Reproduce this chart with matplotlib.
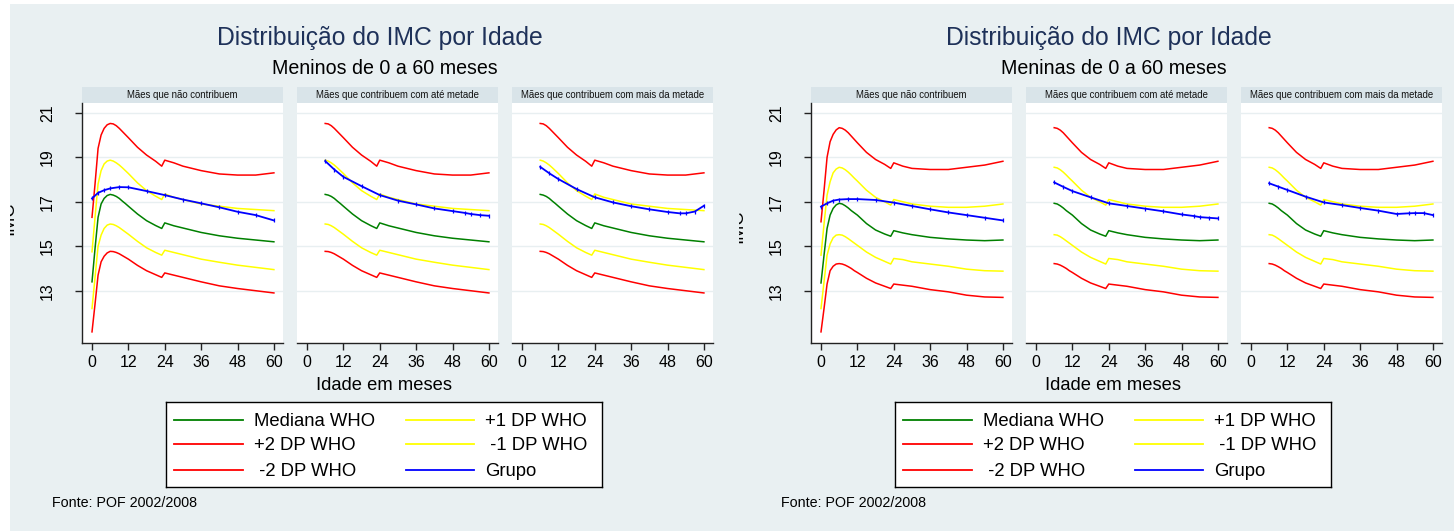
import matplotlib
matplotlib.use("Agg")
import matplotlib.pyplot as plt
from matplotlib.lines import Line2D

plt.rcParams['font.family'] = ['Liberation Sans', 'DejaVu Sans']

# ---------------------------------------------------------------- data
ages = [0, 1, 2, 3, 4, 5, 6, 7, 8, 9, 10, 11, 12, 15, 18, 21, 23, 24,
        27, 30, 36, 42, 48, 54, 60]

# WHO BMI-for-age reference, boys
boys_median = [13.4, 14.9, 16.3, 16.9, 17.15, 17.28, 17.33, 17.3, 17.24, 17.15, 17.03, 16.92, 16.8,
               16.45, 16.15, 15.93, 15.8, 16.05, 15.92, 15.82, 15.62, 15.47, 15.36, 15.28, 15.2]
boys_p2 = [16.3, 17.8, 19.4, 20.0, 20.3, 20.46, 20.52, 20.5, 20.42, 20.3, 20.16, 20.02, 19.88,
           19.45, 19.1, 18.82, 18.6, 18.87, 18.75, 18.6, 18.4, 18.25, 18.2, 18.2, 18.3]
boys_m2 = [11.15, 12.4, 13.7, 14.3, 14.55, 14.7, 14.77, 14.76, 14.72, 14.66, 14.58, 14.5, 14.42,
           14.14, 13.9, 13.72, 13.6, 13.8, 13.7, 13.6, 13.4, 13.22, 13.1, 13.0, 12.9]
boys_p1 = [14.75, 16.3, 17.8, 18.4, 18.7, 18.83, 18.87, 18.83, 18.75, 18.65, 18.53, 18.4, 18.27,
           17.85, 17.5, 17.25, 17.1, 17.35, 17.2, 17.1, 16.9, 16.8, 16.7, 16.65, 16.6]
boys_m1 = [12.2, 13.6, 15.0, 15.5, 15.8, 15.95, 16.0, 15.98, 15.92, 15.84, 15.74, 15.64, 15.54,
           15.22, 14.93, 14.72, 14.6, 14.82, 14.72, 14.62, 14.42, 14.28, 14.15, 14.05, 13.95]

# WHO BMI-for-age reference, girls
girls_median = [13.35, 14.6, 15.8, 16.4, 16.7, 16.86, 16.93, 16.9, 16.82, 16.72, 16.6, 16.5, 16.4,
                16.02, 15.73, 15.55, 15.45, 15.7, 15.6, 15.52, 15.4, 15.33, 15.28, 15.25, 15.28]
girls_p2 = [16.1, 17.5, 19.0, 19.7, 20.03, 20.23, 20.33, 20.3, 20.22, 20.1, 19.95, 19.8, 19.65,
            19.22, 18.9, 18.68, 18.5, 18.75, 18.6, 18.5, 18.45, 18.45, 18.55, 18.65, 18.82]
girls_m2 = [11.15, 12.2, 13.3, 13.9, 14.1, 14.2, 14.22, 14.2, 14.15, 14.08, 14.0, 13.9, 13.82,
            13.56, 13.35, 13.2, 13.1, 13.3, 13.25, 13.2, 13.05, 12.95, 12.8, 12.72, 12.7]
girls_p1 = [14.6, 16.0, 17.3, 17.9, 18.3, 18.47, 18.55, 18.52, 18.44, 18.33, 18.2, 18.06, 17.93,
            17.52, 17.2, 17.0, 16.85, 17.1, 17.0, 16.9, 16.8, 16.75, 16.75, 16.8, 16.9]
girls_m1 = [12.2, 13.4, 14.6, 15.1, 15.38, 15.5, 15.52, 15.5, 15.43, 15.34, 15.24, 15.14, 15.04,
            14.74, 14.5, 14.32, 14.2, 14.45, 14.4, 14.3, 14.2, 14.1, 13.97, 13.9, 13.88]

# Observed group curves (BMI by age), one per panel
grupo_ages_0 = [0, 2, 4, 6, 9, 12, 18, 24, 30, 36, 42, 48, 54, 60]
grupo_ages_6 = [6, 9, 12, 18, 24, 30, 36, 42, 48, 52, 54, 57, 60]

boys_grupo = [
    [17.15, 17.4, 17.52, 17.6, 17.66, 17.65, 17.48, 17.3, 17.1, 16.93, 16.75, 16.55, 16.4, 16.16],
    [18.83, 18.45, 18.12, 17.7, 17.3, 17.05, 16.88, 16.7, 16.58, 16.5, 16.45, 16.4, 16.37],
    [18.57, 18.28, 18.02, 17.57, 17.2, 16.97, 16.8, 16.66, 16.54, 16.48, 16.48, 16.56, 16.82],
]
girls_grupo = [
    [16.78, 16.93, 17.05, 17.1, 17.12, 17.12, 17.08, 16.96, 16.81, 16.66, 16.52, 16.4, 16.28, 16.16],
    [17.87, 17.67, 17.48, 17.2, 16.93, 16.81, 16.69, 16.57, 16.43, 16.36, 16.31, 16.28, 16.25],
    [17.83, 17.68, 17.53, 17.23, 16.97, 16.85, 16.72, 16.6, 16.45, 16.48, 16.49, 16.49, 16.4],
]

panel_titles = ["Mães que não contribuem",
                "Mães que contribuem com até metade",
                "Mães que contribuem com mais da metade"]
graph_subtitles = ["Meninos de 0 a 60 meses", "Meninas de 0 a 60 meses"]
graph_title = "Distribuição do IMC por Idade"
x_ticks = [0, 12, 24, 36, 48, 60]
y_ticks = [13, 15, 17, 19, 21]
legend_labels = [["Mediana WHO", "+2 DP WHO", " -2 DP WHO"],
                 ["+1 DP WHO", " -1 DP WHO", "Grupo"]]
source_note = "Fonte: POF 2002/2008"

# ---------------------------------------------------------------- styling
W, H = 1454, 531
BG = "#e9f0f2"
STRIP = "#d9e4e9"
GRID = "#e8eff1"
TITLE_COLOR = "#1e3159"
C_MED = "#008000"
C_2SD = "#ff0000"
C_1SD = "#ffff00"
C_GRP = "#0000ff"
LW = 1.1


def px_axes(fig, x0, y0, x1, y1, **kw):
    """Add axes from pixel box (x0, y0 top-left, x1, y1 bottom-right)."""
    return fig.add_axes([x0 / W, 1 - y1 / H, (x1 - x0) / W, (y1 - y0) / H], **kw)


fig = plt.figure(figsize=(W / 100, H / 100), dpi=100, facecolor="white")

sexes = [
    dict(ref=(boys_median, boys_p2, boys_m2, boys_p1, boys_m1), grupo=boys_grupo),
    dict(ref=(girls_median, girls_p2, girls_m2, girls_p1, girls_m1), grupo=girls_grupo),
]

graph_boxes = [(10, 739), (739, 1454)]
label_y = [218, 226]

for g, (sx, (gx0, gx1)) in enumerate(zip(sexes, graph_boxes)):
    off = 729 * g

    # graph background
    bg = px_axes(fig, gx0, 4, gx1, H, zorder=0)
    bg.set_facecolor(BG)
    bg.set_xlim(gx0, gx1)
    bg.set_ylim(H, 4)
    bg.set_xticks([])
    bg.set_yticks([])
    for s in bg.spines.values():
        s.set_visible(False)

    # y axis title (partly cut at the graph edge)
    bg.text(13 + off, label_y[g], "IMC", rotation=90, rotation_mode="anchor",
            ha="center", va="baseline", fontsize=13.2, color="black", clip_on=True)

    # titles
    fig.text((380 + off) / W, 1 - 38 / H, graph_title, ha="center", va="center",
             fontsize=17.8, color=TITLE_COLOR)
    fig.text((385 + off) / W, 1 - 68 / H, graph_subtitles[g], ha="center", va="center",
             fontsize=14.1, color="black")

    median, p2, m2, p1, m1 = sx["ref"]
    panel_lefts = [82, 297, 512]
    for p, pl in enumerate(panel_lefts):
        x0 = pl + off
        x1 = x0 + 201
        # strip
        st = px_axes(fig, x0, 87, x1, 103)
        st.set_facecolor(STRIP)
        st.set_xticks([])
        st.set_yticks([])
        for s in st.spines.values():
            s.set_visible(False)
        st.text(0.5, 0.5, panel_titles[p], transform=st.transAxes, ha="center",
                va="center", fontsize=6.9, color="#111111")

        ax = px_axes(fig, x0, 103, x1, 343)
        ax.set_facecolor("white")
        ax.set_xlim(-3.3, 63.0)
        ax.set_ylim(10.65, 21.44)
        for yt in y_ticks:
            ax.axhline(yt, color=GRID, lw=1.0, zorder=1)

        start = 0 if p == 0 else ages.index(6)
        xa = ages[start:]
        ax.plot(xa, p2[start:], color=C_2SD, lw=LW, zorder=3)
        ax.plot(xa, p1[start:], color=C_1SD, lw=LW, zorder=3)
        ax.plot(xa, median[start:], color=C_MED, lw=LW, zorder=3)
        ax.plot(xa, m1[start:], color=C_1SD, lw=LW, zorder=3)
        ax.plot(xa, m2[start:], color=C_2SD, lw=LW, zorder=3)

        gx = grupo_ages_0 if p == 0 else grupo_ages_6
        ax.plot(gx, sx["grupo"][p], color=C_GRP, lw=LW + 0.2, zorder=4,
                marker="|", markersize=2.5, markeredgewidth=0.9)

        for side in ("top", "right"):
            ax.spines[side].set_visible(False)
        ax.spines["bottom"].set_color("#222222")
        ax.spines["bottom"].set_linewidth(1.0)
        ax.set_xticks(x_ticks)
        ax.tick_params(axis="x", length=5, width=1.0, color="#222222",
                       labelsize=11.5, pad=3.5)
        if p == 0:
            ax.spines["left"].set_color("#222222")
            ax.spines["left"].set_linewidth(1.0)
            ax.set_yticks(y_ticks)
            ax.tick_params(axis="y", length=5, width=1.0, color="#222222",
                           labelsize=11.5, pad=14.5)
            for lab in ax.get_yticklabels():
                lab.set_rotation(90)
                lab.set_va("center")
        else:
            ax.spines["left"].set_visible(False)
            ax.set_yticks([])

    # x axis title
    fig.text((384 + off) / W, 1 - 385 / H, "Idade em meses", ha="center",
             va="center", fontsize=13.2)

    # legend
    lg = px_axes(fig, 166 + off, 402, 602 + off, 487)
    lg.set_xlim(0, 436)
    lg.set_ylim(85, 0)
    lg.set_facecolor("white")
    lg.set_xticks([])
    lg.set_yticks([])
    for s in lg.spines.values():
        s.set_color("black")
        s.set_linewidth(1.0)
    key_colors = [[C_MED, C_2SD, C_2SD], [C_1SD, C_1SD, C_GRP]]
    col_line = [(8, 77), (240, 308)]
    col_text = [88, 319]
    rows = [19, 43, 69]
    for c in range(2):
        for r in range(3):
            lg.add_line(Line2D(col_line[c], [rows[r] - 1, rows[r] - 1],
                               color=key_colors[c][r], lw=LW + 0.2))
            lg.text(col_text[c], rows[r], legend_labels[c][r], ha="left",
                    va="center", fontsize=13.3)

    fig.text((52 + off) / W, 1 - 503 / H, source_note, ha="left", va="center",
             fontsize=10.3)

fig.savefig("out.png", dpi=100, facecolor="white")
